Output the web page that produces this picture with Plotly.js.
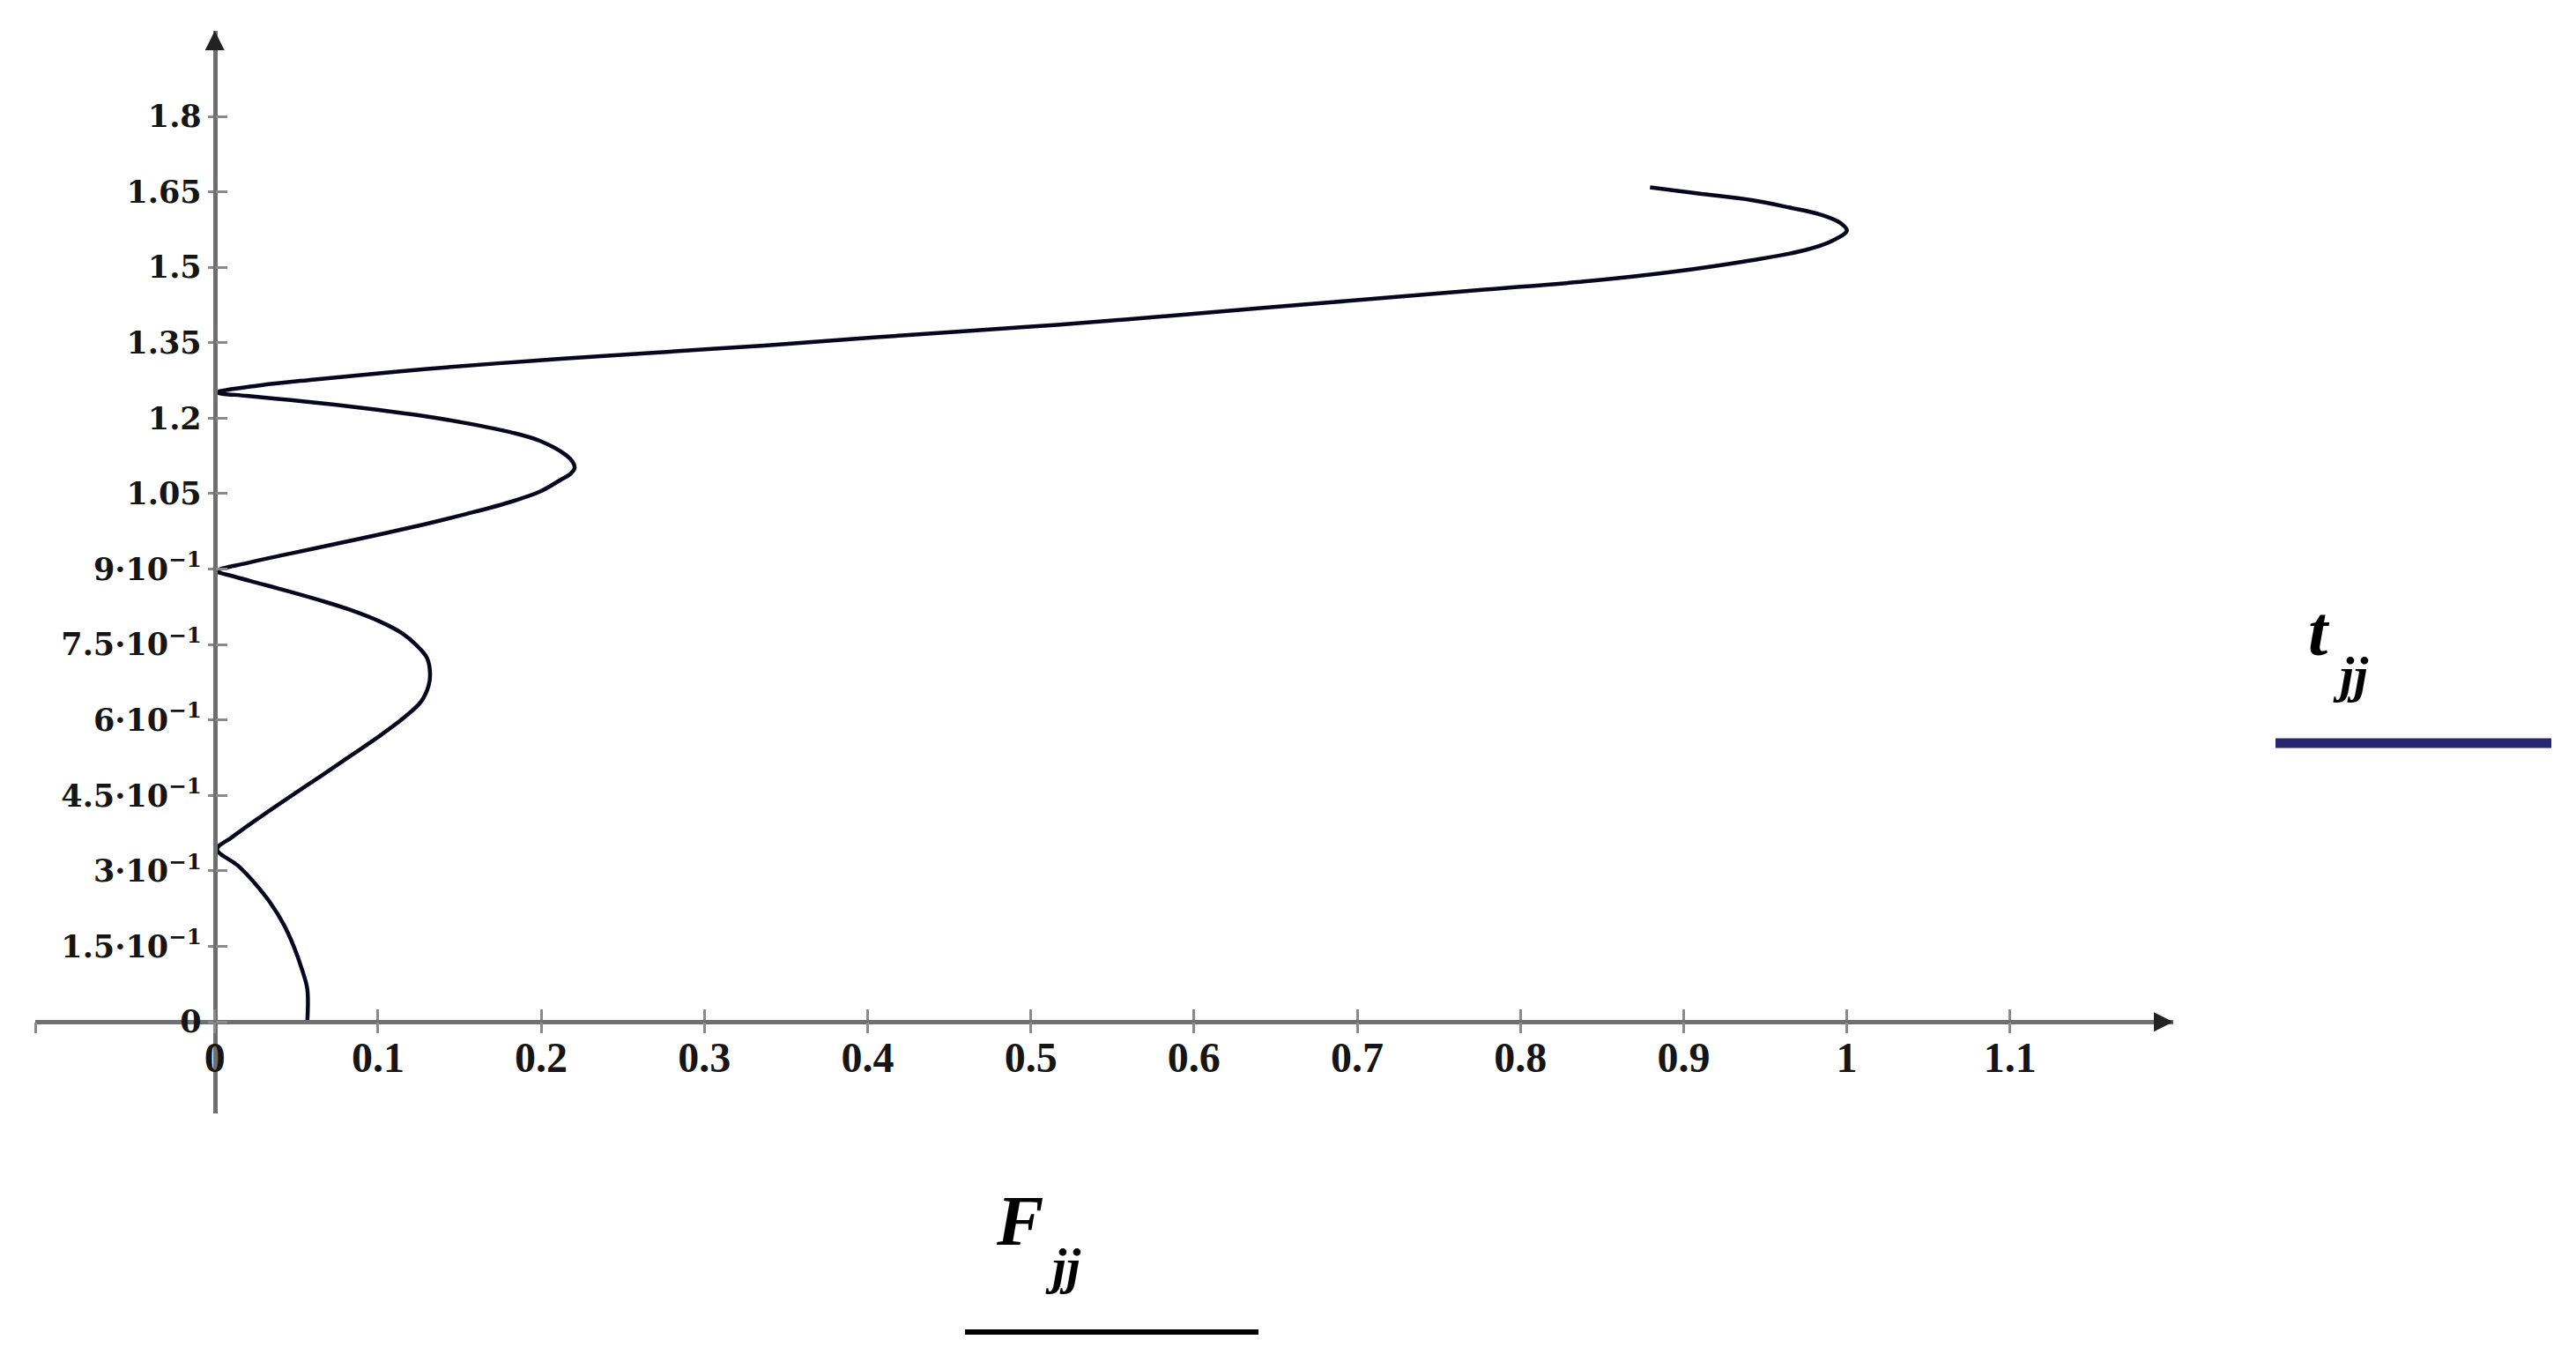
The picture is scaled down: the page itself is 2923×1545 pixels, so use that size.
<!DOCTYPE html>
<html><head><meta charset="utf-8">
<script src="https://cdn.plot.ly/plotly-3.0.1.min.js"></script>
<style>html,body{margin:0;padding:0;background:#fff;overflow:hidden}#chart{width:2923px;height:1545px}</style>
</head><body><div id="chart"></div>
<script>
// ---- data ----
const F_jj = [0.0567,0.0567,0.0536,0.0482,0.042,0.0338,0.0248,0.014,0.0014,
  0.0104,0.0284,0.0464,0.0644,0.0824,0.1004,0.1166,0.1265,0.131,0.1319,0.1301,0.1238,0.1148,0.1004,0.0824,0.0644,0.0464,0.0284,0.0104,0.0012,
  0.0194,0.0464,0.0734,0.1004,0.1274,0.1544,0.1814,0.1994,0.212,0.2178,0.2205,0.2195,0.2155,0.1994,0.1814,0.1544,0.1274,0.1004,0.0734,0.0464,0.0194,0.0012,
  0.0284,0.0613,0.130,0.199,0.268,0.3368,0.4057,0.4746,0.5162,0.5816,0.647,0.7125,0.778,0.8434,0.8925,0.9416,0.9743,0.9907,1.0,0.9956,0.9842,0.9645,0.9416,0.909,0.8794];
const t_jj = [0,0.065,0.1025,0.1516,0.195,0.2376,0.2746,0.311,0.343,
  0.3667,0.4085,0.4484,0.4871,0.5271,0.567,0.6065,0.637,0.668,0.6925,0.723,0.748,0.7724,0.7969,0.8197,0.8381,0.8548,0.8707,0.8866,0.896,
  0.9118,0.931,0.9497,0.9684,0.9883,1.0099,1.0338,1.0543,1.0776,1.089,1.101,1.112,1.126,1.1547,1.172,1.19,1.2045,1.2165,1.227,1.236,1.2445,1.251,
  1.2656,1.277,1.298,1.315,1.330,1.3445,1.361,1.3765,1.3855,1.4025,1.4205,1.438,1.4555,1.473,1.4906,1.514,1.534,1.552,1.573,1.589,1.6045,1.619,1.6336,1.6466,1.659];
const xTickVals = [0,0.1,0.2,0.3,0.4,0.5,0.6,0.7,0.8,0.9,1,1.1];
const xTickText = ["0","0.1","0.2","0.3","0.4","0.5","0.6","0.7","0.8","0.9","1","1.1"];
const yTickVals = [0,0.15,0.3,0.45,0.6,0.75,0.9,1.05,1.2,1.35,1.5,1.65,1.8];
const yTickText = ["0","1.5·10<sup>−1</sup>","3·10<sup>−1</sup>","4.5·10<sup>−1</sup>","6·10<sup>−1</sup>",
  "7.5·10<sup>−1</sup>","9·10<sup>−1</sup>","1.05","1.2","1.35","1.5","1.65","1.8"];
const xRange = [-0.11, 1.2];
const yRange = [-0.182, 1.97];
const xCapTicks = [xRange[0]].concat(xTickVals);
const yCapTicks = [yRange[0]].concat(yTickVals);

// ---- layout geometry ----
const W = 2923, H = 1545;
const M = {l:40, r:457, t:35, b:282, pad:0};
const PW = W - M.l - M.r, PH = H - M.t - M.b;
const px = x => (x - M.l) / PW;
const py = y => (H - M.b - y) / PH;
const xPos = (0 - xRange[0]) / (xRange[1] - xRange[0]);
const yPos = (0 - yRange[0]) / (yRange[1] - yRange[0]);

const axisColor = '#6f6f6f', tickColor = '#8a8a8a';
const xFont = {family:'Liberation Serif', size:48, color:'#151515', weight:'bold'};
const yFont = {family:'DejaVu Serif', size:35, color:'#151515', weight:'bold'};

const trace = {
  x: F_jj, y: t_jj, type:'scatter', mode:'lines',
  line:{color:'#06061f', width:4.5, shape:'spline', smoothing:1},
  hoverinfo:'skip', showlegend:false
};
// empty trace so the overlay axes (second half of the crossing tick marks) are drawn
const tickHolder = {x:[], y:[], type:'scatter', mode:'lines', xaxis:'x2', yaxis:'y2',
  hoverinfo:'skip', showlegend:false};

const layout = {
  width:W, height:H, autosize:false, margin:M,
  paper_bgcolor:'#ffffff', plot_bgcolor:'#ffffff', showlegend:false,
  xaxis:{range:xRange, anchor:'free', position:yPos, showgrid:false, zeroline:false,
    showline:true, linecolor:axisColor, linewidth:5,
    ticks:'inside', ticklen:12, tickwidth:3, tickcolor:tickColor, ticklabelstandoff:-4,
    tickmode:'array', tickvals:xTickVals, ticktext:xTickText, tickfont:xFont, fixedrange:true},
  xaxis2:{range:xRange, overlaying:'x', anchor:'free', position:yPos, showgrid:false, zeroline:false,
    showline:false, ticks:'outside', ticklen:12, tickwidth:3, tickcolor:tickColor,
    tickmode:'array', tickvals:xCapTicks, showticklabels:false, fixedrange:true},
  yaxis:{range:yRange, anchor:'free', position:xPos, showgrid:false, zeroline:false,
    showline:true, linecolor:axisColor, linewidth:5,
    ticks:'outside', ticklen:6, tickwidth:3, tickcolor:tickColor,
    tickmode:'array', tickvals:yTickVals, ticktext:yTickText, tickfont:yFont, fixedrange:true},
  yaxis2:{range:yRange, overlaying:'y', anchor:'free', position:xPos, showgrid:false, zeroline:false,
    showline:false, ticks:'inside', ticklen:13, tickwidth:3, tickcolor:tickColor,
    tickmode:'array', tickvals:yCapTicks, showticklabels:false, fixedrange:true},
  annotations:[
    {x:xRange[1], y:0, ax:xRange[1]-0.012, ay:0, xref:'x', yref:'y', axref:'x', ayref:'y',
     showarrow:true, arrowhead:2, arrowsize:1.1, arrowwidth:4, arrowcolor:'#222', text:''},
    {x:0, y:yRange[1], ax:0, ay:yRange[1]-0.04, xref:'x', yref:'y', axref:'x', ayref:'y',
     showarrow:true, arrowhead:2, arrowsize:1.1, arrowwidth:4, arrowcolor:'#222', text:''},
    {x:px(1157), y:py(1385), xref:'paper', yref:'paper', xanchor:'center', yanchor:'middle', showarrow:false,
     text:'<b><i>F</i></b>', font:{family:'Liberation Serif', size:80, color:'#000'}},
    {x:px(1206), y:py(1436), xref:'paper', yref:'paper', xanchor:'center', yanchor:'middle', showarrow:false,
     text:'<b><i>jj</i></b>', font:{family:'Liberation Serif', size:58, color:'#000'}},
    {x:px(2631), y:py(716), xref:'paper', yref:'paper', xanchor:'center', yanchor:'middle', showarrow:false,
     text:'<b><i>t</i></b>', font:{family:'Liberation Serif', size:80, color:'#000'}},
    {x:px(2667), y:py(766), xref:'paper', yref:'paper', xanchor:'center', yanchor:'middle', showarrow:false,
     text:'<b><i>jj</i></b>', font:{family:'Liberation Serif', size:58, color:'#000'}}
  ],
  shapes:[
    {type:'line', xref:'paper', yref:'paper', x0:px(1095), x1:px(1428), y0:py(1511), y1:py(1511),
     line:{color:'#000000', width:6}},
    {type:'line', xref:'paper', yref:'paper', x0:px(2582), x1:px(2895), y0:py(843), y1:py(843),
     line:{color:'#27276f', width:11}}
  ]
};

Plotly.newPlot('chart', [trace, tickHolder], layout, {staticPlot:true, displayModeBar:false});
</script>
</body></html>
